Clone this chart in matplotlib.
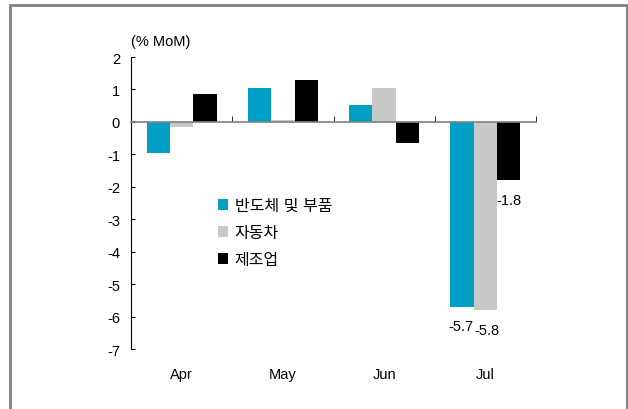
import matplotlib.pyplot as plt
import numpy as np
from matplotlib.patches import Patch, Rectangle

plt.rcParams['font.family'] = ['Liberation Sans', 'Noto Sans CJK KR', 'DejaVu Sans']
plt.rcParams['axes.unicode_minus'] = False

# Data
months = ['Apr', 'May', 'Jun', 'Jul']
series_names = ['반도체 및 부품', '자동차', '제조업']
semis = [-0.95, 1.05, 0.52, -5.7]
autos = [-0.15, 0.05, 1.05, -5.8]
manuf = [0.86, 1.3, -0.65, -1.8]
colors = ['#00A0C6', '#C8C8C8', '#000000']

fig = plt.figure(figsize=(6.28, 4.10), dpi=100)
ax = fig.add_axes([131 / 628, 1 - 350 / 410, (536 - 131) / 628, (350 - 58) / 410])

x = np.arange(len(months))
w = 0.23
for i, vals in enumerate([semis, autos, manuf]):
    ax.bar(x + (i - 1) * w, vals, width=w, color=colors[i], zorder=2)

# value labels for Jul only
ax.annotate('-5.7', (x[3] - w, semis[3]), xytext=(-1, -14), textcoords='offset points',
            ha='center', va='center', fontsize=10.5)
ax.annotate('-5.8', (x[3], autos[3]), xytext=(1, -14), textcoords='offset points',
            ha='center', va='center', fontsize=10.5)
ax.annotate('-1.8', (x[3] + w, manuf[3]), xytext=(0, -14), textcoords='offset points',
            ha='center', va='center', fontsize=10.5)

ax.set_xlim(-0.5, 3.5)
ax.set_ylim(-7, 2)
ax.set_yticks(range(-7, 3))
ax.tick_params(axis='y', direction='in', length=3, pad=8, labelsize=10.5, color='black')

# zero line as x axis with boundary ticks
ax.spines['bottom'].set_position(('data', 0))
ax.spines['bottom'].set_color('#808080')
ax.spines['bottom'].set_linewidth(1.2)
ax.spines['top'].set_visible(False)
ax.spines['right'].set_visible(False)
ax.set_xticks([])
ax.set_xticks([0.5, 1.5, 2.5, 3.5], minor=True)
ax.tick_params(axis='x', which='minor', direction='in', length=4, color='black')

sec = ax.secondary_xaxis(0.0)
sec.set_xticks(x)
sec.set_xticklabels(months)
sec.tick_params(length=0, pad=13, labelsize=10.5)
sec.spines['bottom'].set_visible(False)

fig.text(131 / 628, 1 - 42 / 410, '(% MoM)', fontsize=10.5, va='center', ha='left')

handles = [Patch(facecolor=c, edgecolor='none') for c in colors]
fig.legend(handles, series_names, loc='upper left',
           bbox_to_anchor=(218 / 628, 1 - 199 / 410), frameon=False,
           fontsize=11.5, handlelength=0.65, handleheight=0.65, handletextpad=0.4,
           labelspacing=0.75, borderpad=0, borderaxespad=0)

# outer frame
fig.patches.append(Rectangle((10 / 628, -0.05), (627 - 10) / 628, 1.05 - 6 / 410,
                             transform=fig.transFigure, fill=False,
                             edgecolor='#808080', linewidth=2))

fig.savefig('out.png', dpi=100)
